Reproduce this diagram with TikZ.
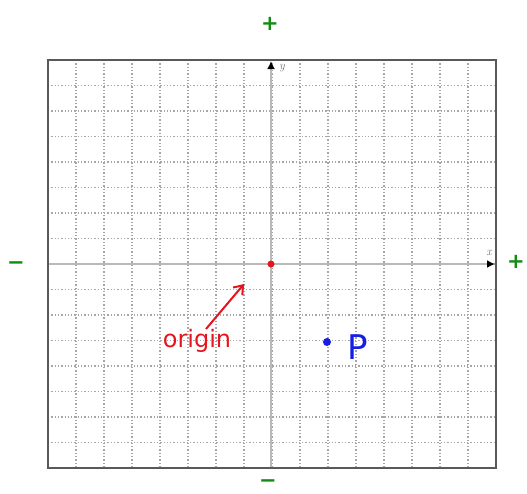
\documentclass[tikz,border=0pt]{standalone}
\usepackage{fontspec}
\setsansfont{DejaVu Sans}
\usetikzlibrary{arrows.meta}
\definecolor{hgreen}{RGB}{20,140,20}
\definecolor{hred}{RGB}{230,20,30}
\definecolor{hblue}{RGB}{20,30,230}
\begin{document}
\begin{tikzpicture}[x=1pt,y=-1pt,
  gridline/.style={gray!70,line width=1.3pt,dash pattern=on 1.3pt off 2pt},
  axisline/.style={gray!55,line width=2pt},
  frameline/.style={black!65,line width=2.2pt},
  sign/.style={text=hgreen,font=\sffamily\bfseries\fontsize{21}{21}\selectfont,inner sep=0pt},
  axlabel/.style={text=black!55,font=\itshape\fontsize{12}{12}\selectfont,inner sep=0pt},
  dotmark/.style={circle,inner sep=0pt,minimum size=8pt}]
\useasboundingbox (0,0) rectangle (527,493);
% grid
\foreach \i in {1,...,15} \draw[gridline] (48+28*\i,60) -- (48+28*\i,468);
\foreach \j in {1,...,15} \draw[gridline] (48,60+25.5*\j) -- (496,60+25.5*\j);
% axes
\draw[axisline,-{Latex[black,length=8pt,width=8pt]}] (271,468) -- (271,61);
\draw[axisline,-{Latex[black,length=8pt,width=8pt]}] (48,264) -- (495,264);
% frame
\draw[frameline] (48,60) rectangle (496,468);
\node[axlabel] (ylab) at (282,68) {y};
\node[axlabel] (xlab) at (489,253) {x};
% signs
\node[sign] (ptop) at (270,24) {+};
\node[sign] (pright) at (516,262) {+};
\node[sign] (mleft) at (16,266) {−};
\node[sign] (mbottom) at (268,484) {−};
% origin
\node[dotmark,fill=hred,minimum size=7pt] (o) at (271,264) {};
\node[text=hred,font=\sffamily\fontsize{24}{24}\selectfont,inner sep=0pt] (olab) at (197,341) {origin};
\coordinate (otip) at (244,284);
\draw[hred,line width=2pt,-{Straight Barb[length=8pt,width=12pt]}] (206,329) -- (otip);
% P
\node[dotmark,fill=hblue] (p) at (327,342) {};
\node[text=hblue,font=\sffamily\fontsize{34}{34}\selectfont,inner sep=0pt] (plab) at (358,347) {P};
\end{tikzpicture}
\end{document}
